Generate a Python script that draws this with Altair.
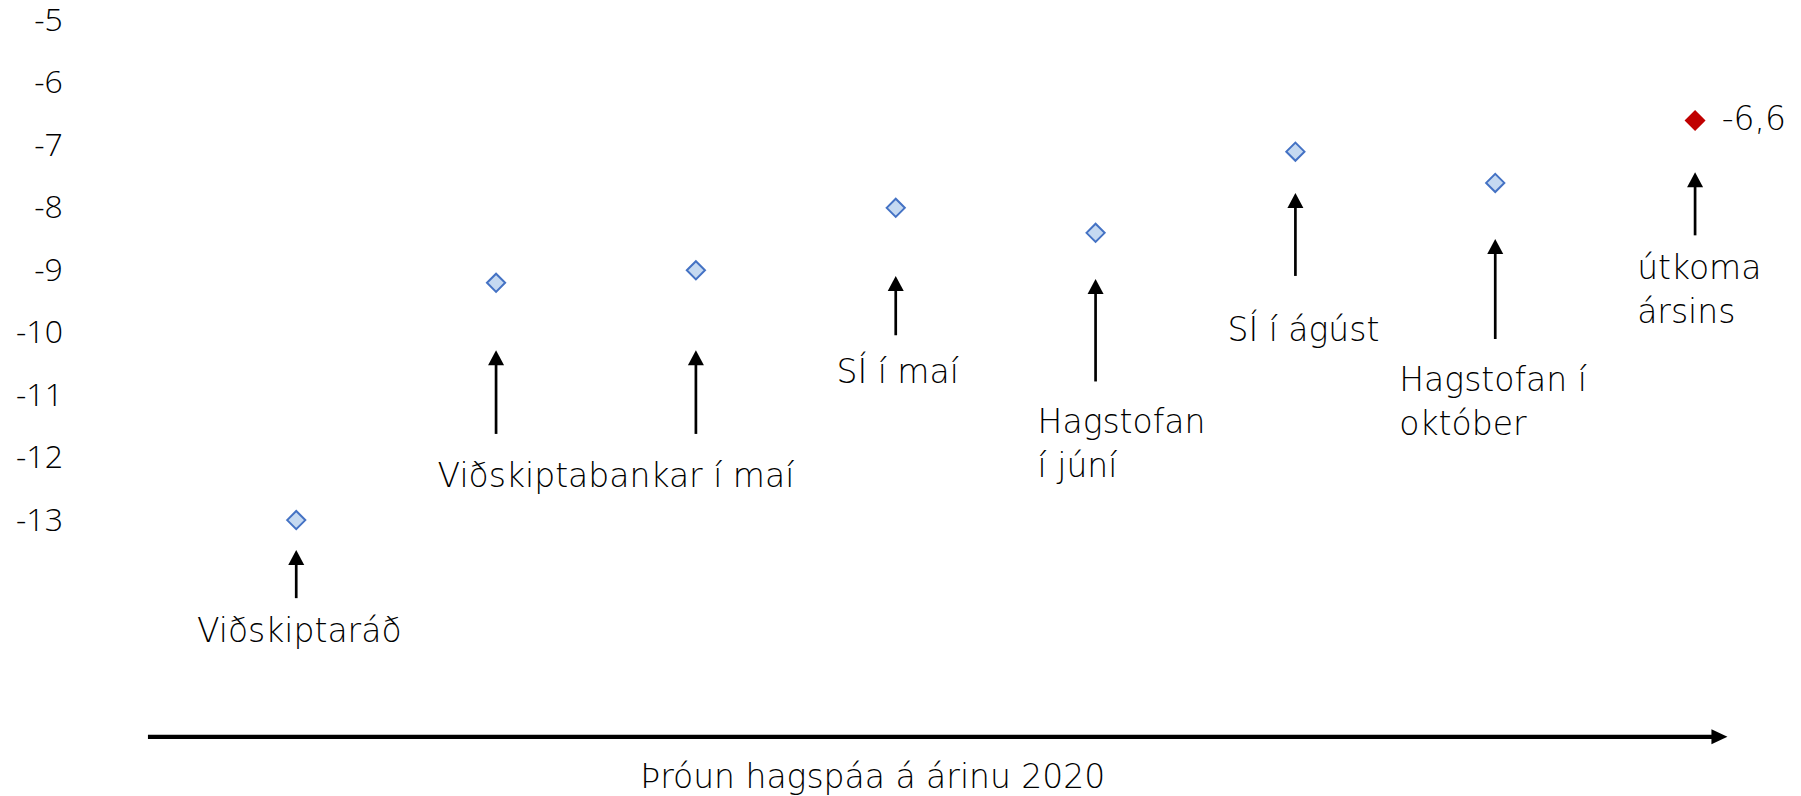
import altair as alt
import pandas as pd

FONT = "DejaVu Sans"
FS = 33
TICK_FONT = "Open Sans"
TICK_FS = 32

# ---- data ----
x_idx = [1, 2, 3, 4, 5, 6, 7, 8]
values = [-13.0, -9.2, -9.0, -8.0, -8.4, -7.1, -7.6, -6.6]
kind = ["spá", "spá", "spá", "spá", "spá", "spá", "spá", "útkoma"]

arrow_tip = [-13.48, -10.28, -10.28, -9.09, -9.14, -7.76, -8.50, -7.43]
arrow_base = [-14.25, -11.62, -11.62, -10.04, -10.78, -9.09, -10.10, -8.44]

label_text = ["Viðskiptaráð", "Viðskiptabankar í maí", "SÍ í maí", "Hagstofan\ní júní",
              "SÍ í ágúst", "Hagstofan í\noktóber", "útkoma\nársins"]
label_x = [1.015, 2.60, 4.01, 4.71, 6.04, 6.52, 7.71]
label_y = [-14.79, -12.31, -10.64, -11.44, -9.97, -10.78, -8.98]
label_align = ["center", "center", "center", "left", "center", "left", "left"]

value_label = ["-6,6"]
value_label_x = [8.133]
value_label_y = [-6.6]

axis_arrow_x = [0.258]
axis_arrow_x2 = [8.162]
axis_arrow_y = [-16.47]

title_text = ["Þróun hagspáa á árinu 2020"]
title_x = [3.885]
title_y = [-17.13]

y_ticks = [-5, -6, -7, -8, -9, -10, -11, -12, -13]

# ---- tables ----
pts = pd.DataFrame({"x": x_idx, "v": values, "kind": kind})
arr = pd.DataFrame({"x": x_idx, "tip": arrow_tip, "base": arrow_base})
lab = pd.DataFrame({"x": label_x, "y": label_y, "t": label_text, "a": label_align})
vlab = pd.DataFrame({"x": value_label_x, "y": value_label_y, "t": value_label})
ax = pd.DataFrame({"x": axis_arrow_x, "x2": axis_arrow_x2, "y": axis_arrow_y})
ttl = pd.DataFrame({"x": title_x, "y": title_y, "t": title_text})

xs = alt.Scale(domain=[0, 8.47], nice=False, zero=False)
ys = alt.Scale(domain=[-16.5, -4.8], nice=False, zero=False)

yaxis = alt.Axis(values=y_ticks, domain=False, ticks=False, grid=False, title=None,
                 labelFont=TICK_FONT, labelFontSize=TICK_FS, labelFontWeight=300, labelColor="#000000",
                 labelPadding=34, labelExpr="toString(datum.value)")


def X(f):
    return alt.X(f, type="quantitative", scale=xs, axis=None)


def Y(f):
    return alt.Y(f, type="quantitative", scale=ys, axis=yaxis)


points = alt.Chart(pts).mark_point(shape="diamond", filled=True, size=330, strokeWidth=2,
                                   opacity=1).encode(
    x=X("x"),
    y=Y("v"),
    fill=alt.Fill("kind:N", scale=alt.Scale(domain=["spá", "útkoma"], range=["#c5d9f1", "#c00000"]), legend=None),
    stroke=alt.Stroke("kind:N", scale=alt.Scale(domain=["spá", "útkoma"], range=["#4472c4", "#c00000"]), legend=None),
)

shafts = alt.Chart(arr).mark_rule(color="black", strokeWidth=2.7, y2Offset=8).encode(
    x=X("x"), y=Y("base"), y2="tip"
)
heads = alt.Chart(arr).mark_point(shape="M-1,1.875L0,0L1,1.875Z", filled=True, size=256,
                                  color="black", opacity=1, strokeWidth=0).encode(
    x=X("x"), y=Y("tip")
)

text_style = dict(font=FONT, fontSize=FS, fontWeight=300, color="black", baseline="middle",
                  lineBreak="\n", lineHeight=44)

lab_center = alt.Chart(lab).transform_filter("datum.a == 'center'").mark_text(
    align="center", **text_style).encode(x=X("x"), y=Y("y"), text="t:N")
lab_left = alt.Chart(lab).transform_filter("datum.a == 'left'").mark_text(
    align="left", **text_style).encode(x=X("x"), y=Y("y"), text="t:N")

val_text = alt.Chart(vlab).mark_text(align="left", **text_style).encode(
    x=X("x"), y=Y("y"), text="t:N")

axis_line = alt.Chart(ax).mark_rule(color="black", strokeWidth=4.3, x2Offset=-8).encode(
    x=X("x"), x2="x2", y=Y("y"))
axis_head = alt.Chart(ax).mark_point(shape="M0,0L-2,-0.9375L-2,0.9375Z", filled=True, size=256,
                                     color="black", opacity=1, strokeWidth=0).encode(
    x=X("x2"), y=Y("y"))

title = alt.Chart(ttl).mark_text(align="center", **text_style).encode(
    x=X("x"), y=Y("y"), text="t:N")

chart = alt.layer(points, shafts, heads, lab_center, lab_left, val_text, axis_line, axis_head, title).properties(
    width=1692.8, height=730.7,
    autosize=alt.AutoSizeParams(type="none"),
    padding={"left": 88.4, "top": 0, "right": 4, "bottom": 75},
    background="white",
).configure_view(stroke=None)

chart.save("out.html", embed_options={"renderer": "svg", "actions": False})
